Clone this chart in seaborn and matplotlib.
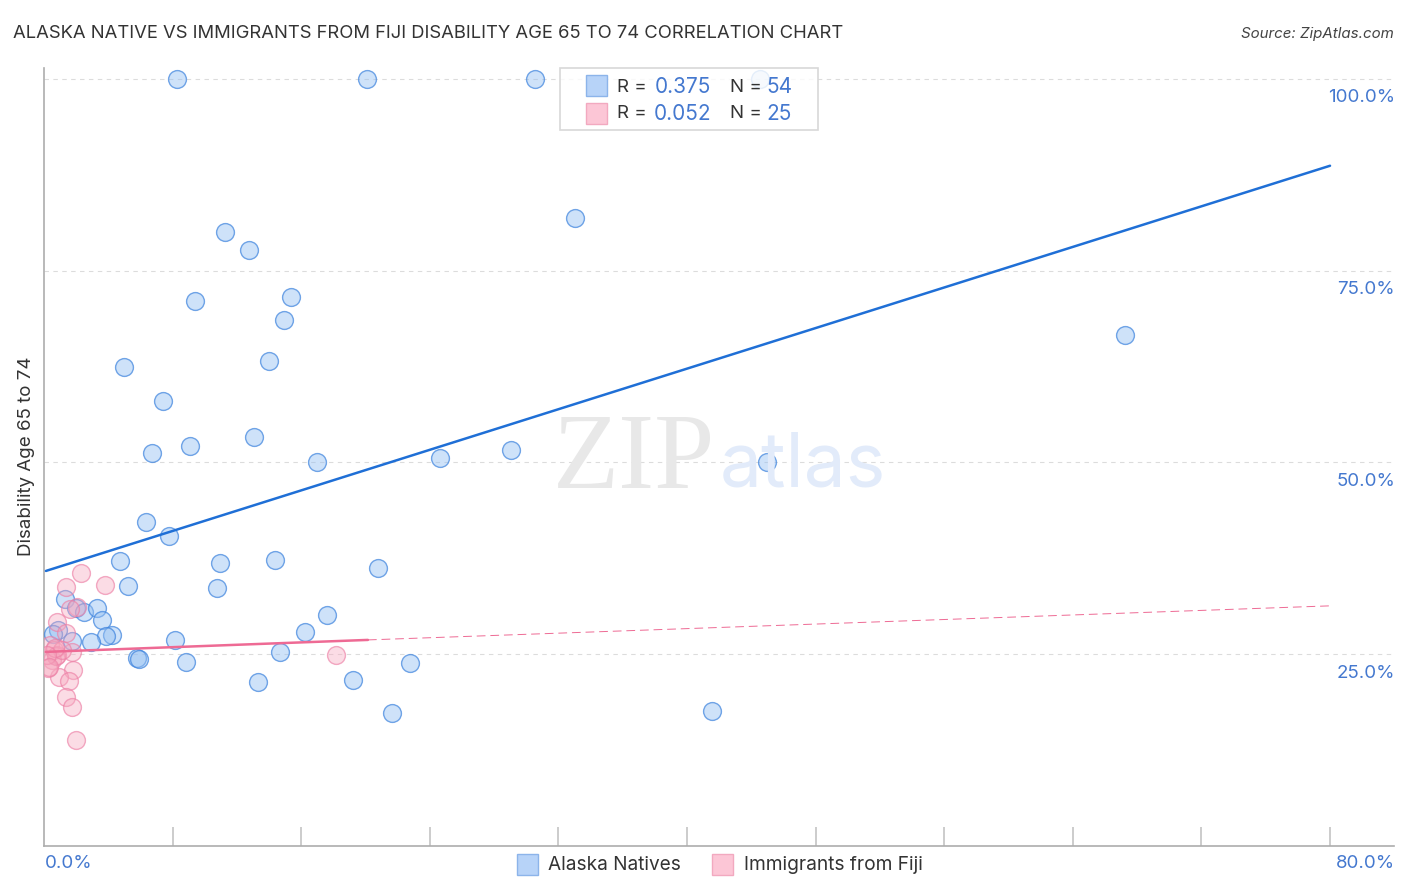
import matplotlib
matplotlib.use("Agg")
import matplotlib.pyplot as plt
import matplotlib.transforms as mtransforms
from matplotlib.patches import Rectangle
import pandas as pd
import seaborn as sns

W, H = 1406, 892

# values in percent
alaska_x = [8.27, 20.09, 30.54, 44.54, 33.03, 11.26, 12.75, 9.39, 15.37, 14.93, 67.25, 4.98, 14.0,
            7.40, 13.06, 9.08, 6.72, 16.98, 24.63, 29.05, 44.98, 6.35, 7.78, 4.73, 10.95, 14.37,
            20.78, 5.23, 10.76, 1.31, 1.99, 2.49, 3.30, 3.61, 17.60, 0.87, 0.56, 16.24, 4.23,
            3.86, 1.74, 2.92, 8.15, 5.79, 5.91, 8.83, 14.68, 22.77, 13.31, 19.22, 21.65, 41.56]
alaska_y = [100, 100, 100, 100, 81.9, 80.05, 77.7, 71.05, 71.6, 68.6, 66.6, 62.45, 63.2,
            58.0, 53.3, 52.15, 51.2, 50.05, 50.6, 51.6, 50.05, 42.2, 40.4, 37.15, 36.9, 37.3,
            36.25, 33.9, 33.6, 32.2, 31.05, 30.5, 31.05, 29.45, 30.1, 28.15, 27.65, 27.9, 27.5,
            27.4, 26.7, 26.6, 26.85, 24.5, 24.4, 24.0, 25.3, 23.85, 21.4, 21.65, 17.35, 17.6]

fiji_x = [2.30, 3.79, 1.37, 2.05, 1.62, 0.81, 1.37, 1.74, 1.80, 0.93, 1.55, 1.37, 1.74, 1.99,
          18.17, 0.37, 0.62, 0.81, 0.50, 0.25, 0.75, 1.12, 0.68, 0.19, 0.31]
fiji_y = [35.6, 34.0, 33.8, 31.2, 30.9, 29.2, 27.75, 25.3, 22.9, 22.0, 21.5, 19.4, 18.1, 13.8,
          24.9, 26.2, 25.55, 24.9, 24.25, 23.2, 24.8, 25.55, 25.8, 24.9, 23.3]

# trend lines
alaska_line_x = [0.12, 80.0]
alaska_line_y = [35.85, 88.66]
fiji_line_x = [0.12, 20.15]
fiji_line_y = [25.3, 26.86]
fiji_dash_x = [20.15, 80.0]
fiji_dash_y = [26.86, 31.3]

grid_vals = [25, 50, 75, 100]
grid_labels = ["25.0%", "50.0%", "75.0%", "100.0%"]
x_ticks = [8, 16, 24, 32, 40, 48, 56, 64, 72, 80]

BLUE = "#1f6fd6"
PINK = "#ee6a94"
LABEL_BLUE = "#4478cf"
TEXT = "#333333"

sns.set_theme(style="white")
plt.rcParams["font.family"] = ["Inter", "DejaVu Sans"]

fig = plt.figure(figsize=(W / 100, H / 100), dpi=100)
ax = fig.add_axes([44 / W, (H - 846) / H, 1350 / W, 778 / H])

alaska = pd.DataFrame({"x": alaska_x, "y": alaska_y})
fiji = pd.DataFrame({"x": fiji_x, "y": fiji_y})

sns.scatterplot(data=alaska, x="x", y="y", s=165, ax=ax, zorder=3, clip_on=False)
pts = ax.collections[-1]
pts.set_alpha(None)
pts.set_facecolor((0.58, 0.75, 0.95, 0.45))
pts.set_edgecolor((0.25, 0.52, 0.87, 0.72))
pts.set_linewidth(1.0)

sns.scatterplot(data=fiji, x="x", y="y", s=165, ax=ax, zorder=4, clip_on=True)
pts = ax.collections[-1]
pts.set_alpha(None)
pts.set_facecolor((0.97, 0.66, 0.75, 0.40))
pts.set_edgecolor((0.93, 0.50, 0.65, 0.65))
pts.set_linewidth(1.0)

sns.lineplot(x=alaska_line_x, y=alaska_line_y, color=BLUE, lw=1.8, ax=ax, zorder=5)
sns.lineplot(x=fiji_line_x, y=fiji_line_y, color=PINK, lw=1.8, ax=ax, zorder=5)
sns.lineplot(x=fiji_dash_x, y=fiji_dash_y, color=PINK, lw=0.7, ls=(0, (9, 5)), ax=ax, zorder=5)

ax.set_xlim(0, 83.98)
ax.set_ylim(0, 101.4)
ax.set_xlabel("")
ax.set_ylabel("")

for v in grid_vals:
    ax.axhline(v, color="#dcdcdc", lw=0.8, ls=(0, (4, 4)), zorder=1)

ax.set_xticks(x_ticks)
ax.set_xticklabels([])
ax.set_yticks([])
ax.tick_params(axis="x", direction="in", length=14, width=1.2, color="#c4c4c4", bottom=True)

sns.despine(ax=ax)
for side in ["left", "bottom"]:
    ax.spines[side].set_color("#adadad")
    ax.spines[side].set_linewidth(1.2)

# pixel coordinates of the reference, for the furniture around the plot
px = mtransforms.Affine2D().scale(1 / W, -1 / H).translate(0, 1) + fig.transFigure


def put(x, y, s, **kw):
    kw.setdefault("va", "center")
    kw.setdefault("color", TEXT)
    return fig.text(x, y, s, transform=px, **kw)


put(13, 34, "ALASKA NATIVE VS IMMIGRANTS FROM FIJI DISABILITY AGE 65 TO 74 CORRELATION CHART",
    fontsize=13.25, color="#333333")
put(1394, 34, "Source: ZipAtlas.com", fontsize=10.85, ha="right", style="italic", color="#444444")
put(27, 456, "Disability Age 65 to 74", fontsize=13.5, rotation=90, ha="center")

for v, lab in zip(grid_vals, grid_labels):
    py = 846 - v * 7.67 + 19
    put(1395, py, lab, fontsize=13.5, ha="right", color=LABEL_BLUE)
put(45, 864, "0.0%", fontsize=13.5, color=LABEL_BLUE)
put(1395, 864, "80.0%", fontsize=13.5, ha="right", color=LABEL_BLUE)

# watermark
put(634, 462, "ZIP", fontsize=78, family="Liberation Serif", ha="center", color="#e8e8e8", zorder=0.5)
put(803, 467, "atlas", fontsize=54, ha="center", color="#e2ebfa", zorder=0.5)

# top legend box
fig.add_artist(Rectangle((559.5, 68), 258, 62, transform=px, facecolor=(1, 1, 1, 0.82),
                         edgecolor="#d8d8d8", lw=1.2, zorder=6))
fig.add_artist(Rectangle((586, 75), 21, 21, transform=px, facecolor="#b7d3f8",
                         edgecolor="#8cb4ea", lw=1, zorder=7))
fig.add_artist(Rectangle((586, 102.5), 21, 21, transform=px, facecolor="#fcc6d6",
                         edgecolor="#f2a9c0", lw=1, zorder=7))
for y, r_val, n_val in [(87, "0.375", "54"), (114, "0.052", "25")]:
    put(617, y, "R =", fontsize=13.5, zorder=8)
    put(711, y, r_val, fontsize=15, ha="right", color=LABEL_BLUE, zorder=8)
    put(730, y, "N =", fontsize=13.5, zorder=8)
    put(792, y, n_val, fontsize=15, ha="right", color=LABEL_BLUE, zorder=8)

# bottom legend
fig.add_artist(Rectangle((516.5, 854), 21, 21, transform=px, facecolor="#b7d3f8",
                         edgecolor="#8cb4ea", lw=1, zorder=7))
put(548, 865, "Alaska Natives", fontsize=13.7)
fig.add_artist(Rectangle((712, 854), 21, 21, transform=px, facecolor="#fcc6d6",
                         edgecolor="#f2a9c0", lw=1, zorder=7))
put(744, 865, "Immigrants from Fiji", fontsize=13.8)

fig.savefig("out.png", dpi=100)
